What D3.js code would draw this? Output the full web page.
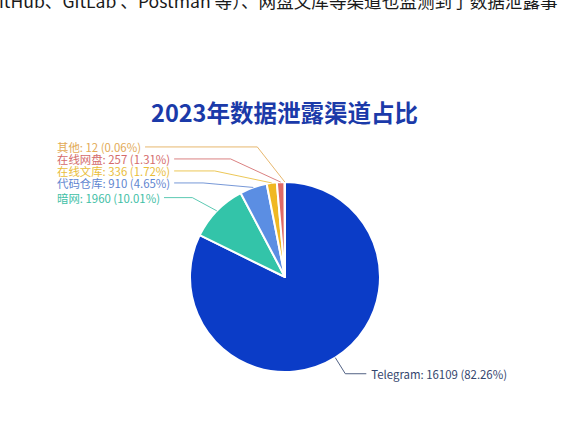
<!DOCTYPE html>
<html><head><meta charset="utf-8">
<script src="https://cdn.jsdelivr.net/npm/d3@7/dist/d3.min.js"></script>
<style>html,body{margin:0;padding:0;background:#fff;overflow:hidden}svg{display:block}</style>
</head><body>
<svg id="c" width="565" height="427"></svg>
<script>
const categories = ["Telegram", "暗网", "代码仓库", "在线文库", "在线网盘", "其他"];
const values = [16109, 1960, 910, 336, 257, 12];
const sliceColors = ["#0b3cc7", "#33c4a9", "#5b8ee3", "#f0b823", "#e06a66", "#f3a43c"];
const labelColors = ["#34466e", "#3fc0a6", "#5f86d0", "#e9bd3a", "#d46b6b", "#e3aa55"];
const titleText = "2023年数据泄露渠道占比";
const topText = "GitHub、GitLab 、Postman 等）、网盘文库等渠道也监测到了数据泄露事";

const svg = d3.select("#c");
const W = 565, H = 427;
const cx = 285, cy = 277, r = 95;
const font = "'Noto Sans CJK SC','Noto Sans',sans-serif";

// clipped screenshot text at top
const tt = svg.append("text").attr("y", 8).attr("font-family", font)
  .attr("font-size", 17.6).attr("fill", "#1a1a1a").text(topText);
const g = svg.append("text").attr("font-family", font).attr("font-size", 17.6).text("G");
const gw = g.node().getComputedTextLength(); g.remove();
tt.attr("x", -gw - 1);

svg.append("text").attr("x", cx - 0.5).attr("y", 122).attr("text-anchor", "middle")
  .attr("font-family", font).attr("font-size", 23.5).attr("font-weight", 700)
  .attr("fill", "#1b3aa9").text(titleText);

const total = d3.sum(values);
const data = categories.map((c, i) => ({name: c, value: values[i], i}));
const arcs = d3.pie().sort(null).value(d => d.value).startAngle(0).endAngle(2 * Math.PI)(data);
const arc = d3.arc().innerRadius(0).outerRadius(r);

const pieG = svg.append("g").attr("transform", `translate(${cx},${cy})`);
pieG.selectAll("path").data(arcs).join("path")
  .attr("d", arc).attr("fill", d => sliceColors[d.data.i])
  .attr("stroke", "#fff").attr("stroke-width", 2).attr("stroke-linejoin", "round");

// label layout
const len1 = 19, len2 = 21, spacing = 12, rA = r + 20, rB = r + 39, leftEdge = 57;
const labs = arcs.map(a => {
  const m = (a.startAngle + a.endAngle) / 2;
  const s = Math.sin(m), c = Math.cos(m);
  return {a, m, s, c, side: s < 0 ? "L" : "R",
    p0: [cx + s * r, cy - c * r],
    ny: cy - c * (r + len1),
    text: `${a.data.name}: ${a.data.value} (${(a.data.value / total * 100).toFixed(2)}%)`,
    color: labelColors[a.data.i]};
});

function spread(list) {
  list.sort((a, b) => a.ny - b.ny);
  let clusters = list.map(l => ({items: [l], mean: l.ny}));
  let changed = true;
  const place = cl => { const n = cl.items.length; const top = cl.mean - (n - 1) * spacing / 2;
    cl.items.forEach((it, k) => it.y = top + k * spacing); };
  clusters.forEach(place);
  while (changed) {
    changed = false;
    for (let k = 0; k < clusters.length - 1; k++) {
      const A = clusters[k], B = clusters[k + 1];
      const aBottom = A.items[A.items.length - 1].y, bTop = B.items[0].y;
      if (bTop - aBottom < spacing) {
        const items = A.items.concat(B.items);
        const cl = {items, mean: d3.mean(items, it => it.ny)};
        place(cl);
        clusters.splice(k, 2, cl);
        changed = true; break;
      }
    }
  }
  return list.some(l => Math.abs(l.y - l.ny) > 0.5);
}

["L", "R"].forEach(side => {
  const list = labs.filter(l => l.side === side);
  const shifted = spread(list);
  list.forEach(l => {
    const dir = side === "L" ? -1 : 1;
    let ex;
    if (shifted) {
      const dy = l.y - cy;
      ex = cx + dir * rA * Math.sqrt(Math.max(0, 1 - (dy / rB) ** 2));
    } else {
      ex = cx + l.s * (r + len1);
    }
    l.p1 = [ex, l.y];
    l.p2 = side === "L" ? null : [ex + len2, l.y];
  });
});

const lg = svg.append("g");
labs.forEach(l => {
  const t = lg.append("text").attr("font-family", font).attr("font-size", 11.4)
    .attr("fill", l.color).attr("dominant-baseline", "central").text(l.text);
  let p2;
  if (l.side === "L") {
    t.attr("x", leftEdge).attr("y", l.y);
    const w = t.node().getComputedTextLength();
    p2 = [leftEdge + w + 4, l.y];
  } else {
    p2 = l.p2;
    t.attr("x", p2[0] + 5).attr("y", l.y);
  }
  lg.append("polyline").attr("points", [l.p0, l.p1, p2].map(p => p.join(",")).join(" "))
    .attr("fill", "none").attr("stroke", l.color).attr("stroke-width", 1).attr("stroke-opacity", 0.85);
});
</script>
</body></html>
